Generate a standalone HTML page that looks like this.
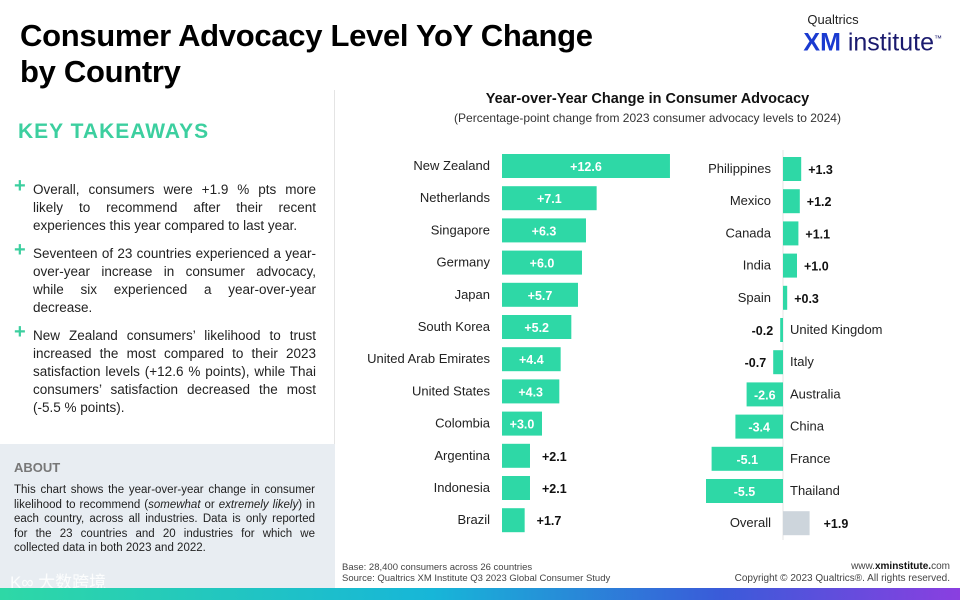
<!DOCTYPE html>
<html><head><meta charset="utf-8">
<style>
body{margin:0;width:960px;height:600px;overflow:hidden;background:#fff;font-family:"Liberation Sans",sans-serif;position:relative}
.abs{position:absolute}
h1{position:absolute;left:20px;top:18px;margin:0;font-size:31px;line-height:36px;font-weight:900;color:#000;letter-spacing:-0.3px}
.kt{left:18px;top:120px;font-size:21px;font-weight:bold;color:#3ccf9f;letter-spacing:1px}
.tk{left:14px;width:302px;font-size:13.5px;line-height:18px;color:#222;text-align:justify}
.tk .p{position:absolute;left:0;top:-4px;color:#3ccf9f;font-size:20px;font-weight:bold}
.tk div{padding-left:19px}
.about{left:0;top:444px;width:335px;height:144px;background:#e8edf2}
.grad{left:0;top:588px;width:960px;height:12px;background:linear-gradient(90deg,#2ed8a6,#17b6d8 45%,#3a5bd9 75%,#8a3fe0)}
</style></head><body>
<h1>Consumer Advocacy Level YoY Change<br>by Country</h1>
<div class="abs" style="right:18px;top:12px;text-align:left">
<div style="font-size:13px;color:#222;margin-left:4px">Qualtrics</div>
<div style="font-size:25px;line-height:24px;color:#1a1a6e"><b style="color:#1a3ad0">XM</b> institute<sup style="font-size:8px">™</sup></div></div>
<div class="abs" style="left:334px;top:90px;width:1px;height:354px;background:#e4e4e4"></div>
<div class="abs kt">KEY TAKEAWAYS</div>
<div class="abs tk" style="top:181px"><span class="p">+</span><div>Overall, consumers were +1.9 % pts more likely to recommend after their recent experiences this year compared to last year.</div></div>
<div class="abs tk" style="top:245px"><span class="p">+</span><div>Seventeen of 23 countries experienced a year-over-year increase in consumer advocacy, while six experienced a year-over-year decrease.</div></div>
<div class="abs tk" style="top:327px"><span class="p">+</span><div>New Zealand consumers’ likelihood to trust increased the most compared to their 2023 satisfaction levels (+12.6 % points), while Thai consumers’ satisfaction decreased the most (-5.5 % points).</div></div>
<div class="abs about">
<div style="position:absolute;left:14px;top:16px;font-size:13px;font-weight:bold;color:#777">ABOUT</div>
<div style="position:absolute;left:14px;top:39px;width:301px;font-size:11.5px;line-height:14.5px;color:#222;text-align:justify">This chart shows the year-over-year change in consumer likelihood to recommend (<i>somewhat</i> or <i>extremely likely</i>) in each country, across all industries. Data is only reported for the 23 countries and 20 industries for which we collected data in both 2023 and 2022.</div>
<div style="position:absolute;left:10px;top:124px;font-size:17px;color:#fff;font-family:'Liberation Sans','Noto Sans CJK SC',sans-serif;opacity:.9">K∞ 大数跨境</div>
</div>
<div class="abs grad"></div>
<div class="abs" style="left:340px;width:615px;top:91px;text-align:center;font-size:14.5px;font-weight:bold;color:#111">Year-over-Year Change in Consumer Advocacy</div>
<div class="abs" style="left:340px;width:615px;top:111px;text-align:center;font-size:12px;color:#333">(Percentage-point change from 2023 consumer advocacy levels to 2024)</div>
<div class="abs" style="left:342px;top:562px;font-size:9.5px;line-height:11px;color:#444">Base: 28,400 consumers across 26 countries<br>Source: Qualtrics XM Institute Q3 2023 Global Consumer Study</div>
<div class="abs" style="right:10px;top:561px;font-size:10px;line-height:12px;color:#444;text-align:right">www.<b style="color:#111">xminstitute.</b>com<br>Copyright © 2023 Qualtrics®. All rights reserved.</div>
<svg class="abs" style="left:0;top:0" width="960" height="600" id="chart"></svg>
<script>
const leftCountries=["New Zealand","Netherlands","Singapore","Germany","Japan","South Korea","United Arab Emirates","United States","Colombia","Argentina","Indonesia","Brazil"];
const leftValues=[12.6,7.1,6.3,6.0,5.7,5.2,4.4,4.3,3.0,2.1,2.1,1.7];
const rightCountries=["Philippines","Mexico","Canada","India","Spain","United Kingdom","Italy","Australia","China","France","Thailand","Overall"];
const rightValues=[1.3,1.2,1.1,1.0,0.3,-0.2,-0.7,-2.6,-3.4,-5.1,-5.5,1.9];
const svg=document.getElementById('chart');const NS='http://www.w3.org/2000/svg';
function mk(t,a,txt){const e=document.createElementNS(NS,t);for(const k in a)e.setAttribute(k,a[k]);if(txt!==undefined)e.textContent=txt;svg.appendChild(e);return e;}
function fmt(v){return (v>0?'+':'')+v.toFixed(1);}
const BH=24,GREEN='#2ed8a6';
const lx0=502,ls=13.33,ly=v=>166+v*32.2;
leftValues.forEach((v,i)=>{const y=ly(i),w=v*ls;
let r=mk('rect',{x:lx0,y:y-BH/2,width:w,height:BH,fill:GREEN});

let t=mk('text',{x:lx0-12,y:y+4,'text-anchor':'end','font-size':13,fill:'#222'},leftCountries[i]);

let inside=v>=2.5;
let l=mk('text',{x:inside?lx0+w/2:lx0+w+12,y:y+5,'text-anchor':inside?'middle':'start','font-size':12.5,'font-weight':'bold',fill:inside?'#fff':'#111'},fmt(v));
});
const rx0=783,rs=14,ry=v=>169+v*32.2;
let ax=mk('line',{x1:rx0,x2:rx0,y1:150,y2:540,stroke:'#e6e6e6','stroke-width':1});

rightValues.forEach((v,i)=>{const y=ry(i),w=Math.abs(v)*rs,x=v>=0?rx0:rx0-w;const ov=rightCountries[i]==='Overall';
let r=mk('rect',{x:x,y:y-BH/2,width:w,height:BH,fill:ov?'#cdd5dc':GREEN});

let t=mk('text',{x:v>=0?rx0-12:rx0+7,y:y+4,'text-anchor':v>=0?'end':'start','font-size':13,fill:'#222'},rightCountries[i]);

let l=mk('text',{x:v>=0?rx0+w+(ov?14:7):rx0-w-7,y:y+5,'text-anchor':v>=0?'start':'end','font-size':12.5,'font-weight':'bold',fill:'#111'},fmt(v));
if(v<0&&w>30){l.setAttribute('x',x+w/2);l.setAttribute('text-anchor','middle');l.setAttribute('fill','#fff');}
});
</script>
</body></html>
